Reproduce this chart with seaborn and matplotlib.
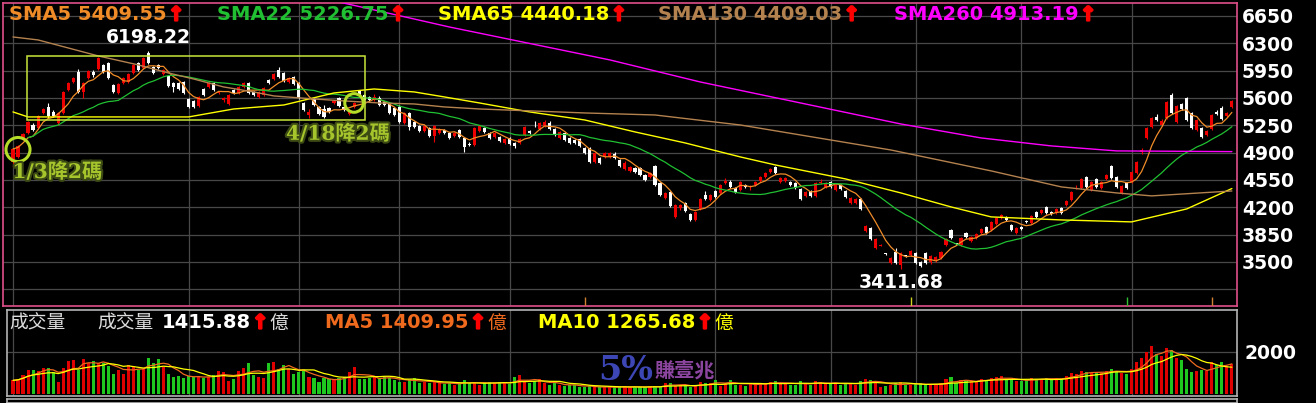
import numpy as np
import pandas as pd
import matplotlib
matplotlib.use("Agg")
import matplotlib.pyplot as plt
import matplotlib.patheffects as pe
from matplotlib.patches import Rectangle
import seaborn as sns

# daily candles
opens = [4781, 4845, 5075, 5152, 5254, 5216, 5408, 5485, 5421, 5280,
         5408, 5702, 5805, 5933, 5677, 5856, 5933, 5972, 6023, 6048,
         5767, 5664, 5792, 5805, 5920, 6048, 5984, 6176, 5997, 6023,
         5907, 5882, 5792, 5792, 5805, 5587, 5562, 5498, 5715, 5741,
         5792, 5664, 5580, 5523, 5702, 5664, 5741, 5792, 5677, 5613,
         5638, 5830, 5843, 5959, 5920, 5805, 5869, 5792, 5536, 5382,
         5587, 5485, 5459, 5472, 5536, 5600, 5485, 5395, 5485, 5690,
         5638, 5613, 5574, 5600, 5549, 5523, 5472, 5485, 5280, 5408,
         5293, 5242, 5178, 5216, 5114, 5152, 5190, 5152, 5114, 5190,
         5088, 5010, 4998, 5178, 5216, 5152, 5101, 5101, 5024, 5088,
         5024, 5024, 5126, 5178, 5260, 5203, 5242, 5280, 5203, 5088,
         5152, 5088, 5062, 5075, 4960, 4960, 4781, 4832, 4845, 4845,
         4883, 4806, 4691, 4666, 4704, 4704, 4614, 4589, 4730, 4512,
         4320, 4397, 4077, 4192, 4256, 4115, 4038, 4179, 4358, 4294,
         4410, 4384, 4512, 4525, 4448, 4422, 4486, 4461, 4486, 4538,
         4589, 4653, 4717, 4525, 4538, 4525, 4512, 4435, 4346, 4410,
         4346, 4512, 4461, 4525, 4422, 4486, 4410, 4256, 4256, 4307,
         3898, 3936, 3680, 3710, 3610, 3488, 3629, 3462, 3585, 3590,
         3616, 3501, 3616, 3501, 3526, 3552, 3718, 3910, 3735, 3718,
         3872, 3770, 3808, 3872, 3949, 3910, 3987, 4064, 4077, 3974,
         3872, 3949, 4020, 4000, 4141, 4128, 4205, 4141, 4128, 4192,
         4230, 4294, 4455, 4448, 4589, 4422, 4563, 4448, 4563, 4730,
         4589, 4384, 4512, 4525, 4640, 4909, 5088, 5229, 5357, 5254,
         5344, 5638, 5293, 5523, 5600, 5408, 5190, 5216, 5126, 5203,
         5421, 5472, 5370, 5485]
highs = [4960, 5000, 5150, 5300, 5280, 5380, 5470, 5536, 5440, 5420,
         5690, 5805, 5869, 5972, 5805, 5960, 5960, 6125, 6040, 6060,
         5780, 5790, 5869, 5920, 6035, 6060, 6125, 6198, 6010, 6040,
         5972, 5895, 5805, 5805, 5818, 5600, 5574, 5626, 5728, 5805,
         5805, 5690, 5613, 5651, 5715, 5754, 5805, 5805, 5690, 5690,
         5741, 5843, 5920, 5997, 5933, 5869, 5882, 5805, 5549, 5459,
         5600, 5498, 5510, 5485, 5574, 5613, 5498, 5459, 5549, 5702,
         5651, 5626, 5651, 5626, 5562, 5536, 5485, 5510, 5421, 5421,
         5306, 5254, 5254, 5229, 5254, 5216, 5203, 5165, 5165, 5203,
         5101, 5037, 5229, 5254, 5229, 5165, 5165, 5114, 5088, 5101,
         5037, 5088, 5242, 5190, 5306, 5293, 5318, 5306, 5216, 5178,
         5165, 5101, 5075, 5088, 4973, 4973, 4909, 4845, 4909, 4909,
         4909, 4819, 4794, 4730, 4717, 4717, 4627, 4653, 4742, 4525,
         4397, 4410, 4243, 4243, 4269, 4128, 4154, 4320, 4410, 4371,
         4422, 4499, 4576, 4550, 4461, 4538, 4499, 4486, 4538, 4602,
         4653, 4704, 4730, 4589, 4589, 4538, 4525, 4448, 4410, 4422,
         4525, 4560, 4525, 4538, 4512, 4499, 4422, 4333, 4320, 4320,
         3974, 3949, 3808, 3731, 3616, 3565, 3680, 3629, 3590, 3655,
         3629, 3514, 3629, 3590, 3578, 3642, 3808, 3923, 3744, 3821,
         3885, 3834, 3872, 3936, 3962, 4026, 4077, 4115, 4090, 3987,
         3949, 3962, 4038, 4102, 4154, 4179, 4218, 4154, 4192, 4205,
         4294, 4410, 4480, 4576, 4602, 4538, 4576, 4538, 4627, 4742,
         4602, 4486, 4525, 4666, 4794, 4960, 5229, 5357, 5395, 5331,
         5562, 5664, 5510, 5536, 5613, 5421, 5331, 5229, 5190, 5395,
         5446, 5498, 5421, 5574]
lows = [4717, 4830, 5062, 5140, 5180, 5200, 5400, 5344, 5357, 5254,
        5395, 5690, 5792, 5664, 5600, 5843, 5870, 5960, 5920, 5843,
        5664, 5651, 5779, 5792, 5907, 5946, 5972, 6035, 5907, 5970,
        5895, 5741, 5677, 5702, 5651, 5472, 5472, 5485, 5626, 5728,
        5690, 5651, 5549, 5510, 5651, 5651, 5728, 5651, 5626, 5600,
        5626, 5779, 5830, 5856, 5805, 5792, 5767, 5587, 5434, 5344,
        5498, 5382, 5344, 5408, 5523, 5485, 5434, 5382, 5472, 5626,
        5562, 5562, 5562, 5498, 5498, 5395, 5370, 5280, 5267, 5190,
        5216, 5165, 5165, 5101, 5037, 5139, 5139, 5075, 5101, 5088,
        4909, 4986, 4986, 5165, 5152, 5075, 5088, 5037, 5011, 4998,
        4960, 5011, 5114, 5139, 5229, 5190, 5229, 5190, 5114, 5075,
        5050, 5011, 5011, 4973, 4883, 4768, 4768, 4755, 4832, 4832,
        4819, 4717, 4678, 4653, 4640, 4602, 4538, 4576, 4474, 4346,
        4307, 4205, 4064, 4166, 4141, 4026, 4026, 4166, 4294, 4282,
        4320, 4371, 4499, 4448, 4384, 4410, 4448, 4422, 4474, 4525,
        4576, 4640, 4627, 4512, 4525, 4474, 4435, 4294, 4333, 4333,
        4333, 4499, 4448, 4448, 4410, 4422, 4320, 4243, 4243, 4166,
        3885, 3782, 3668, 3706, 3590, 3475, 3475, 3412, 3565, 3578,
        3475, 3440, 3475, 3475, 3501, 3539, 3706, 3795, 3718, 3706,
        3808, 3757, 3795, 3859, 3859, 3898, 3974, 4051, 4026, 3898,
        3859, 3910, 4000, 3987, 4064, 4115, 4115, 4102, 4115, 4115,
        4218, 4282, 4440, 4435, 4448, 4410, 4448, 4435, 4550, 4563,
        4448, 4371, 4435, 4512, 4627, 4883, 5075, 5216, 5306, 5242,
        5331, 5395, 5280, 5446, 5306, 5203, 5178, 5088, 5114, 5190,
        5382, 5318, 5357, 5472]
closes = [4947, 4986, 5139, 5293, 5190, 5370, 5459, 5370, 5370, 5408,
          5677, 5792, 5856, 5677, 5792, 5946, 5895, 6112, 5933, 5856,
          5677, 5779, 5856, 5907, 6023, 5959, 6112, 6048, 5920, 5984,
          5959, 5754, 5741, 5715, 5664, 5485, 5485, 5613, 5638, 5792,
          5702, 5677, 5600, 5638, 5664, 5741, 5792, 5664, 5638, 5677,
          5728, 5792, 5907, 5869, 5818, 5856, 5779, 5600, 5446, 5421,
          5510, 5395, 5357, 5421, 5562, 5498, 5446, 5446, 5536, 5638,
          5574, 5574, 5613, 5510, 5510, 5408, 5382, 5293, 5408, 5229,
          5229, 5178, 5242, 5114, 5242, 5203, 5152, 5088, 5152, 5101,
          4973, 4998, 5216, 5242, 5165, 5088, 5152, 5050, 5075, 5011,
          4986, 5075, 5229, 5152, 5250, 5280, 5293, 5203, 5126, 5165,
          5062, 5024, 5024, 4986, 4896, 4781, 4896, 4768, 4896, 4896,
          4832, 4730, 4768, 4717, 4653, 4614, 4550, 4640, 4486, 4358,
          4384, 4218, 4230, 4230, 4154, 4038, 4141, 4307, 4307, 4358,
          4333, 4486, 4538, 4461, 4397, 4525, 4461, 4474, 4525, 4589,
          4640, 4691, 4640, 4576, 4576, 4486, 4448, 4307, 4397, 4346,
          4512, 4525, 4512, 4461, 4499, 4435, 4333, 4320, 4307, 4179,
          3962, 3795, 3795, 3718, 3603, 3552, 3488, 3616, 3578, 3642,
          3488, 3450, 3488, 3578, 3565, 3629, 3795, 3808, 3731, 3808,
          3821, 3821, 3859, 3923, 3872, 4016, 4064, 4102, 4038, 3910,
          3936, 3923, 4013, 4090, 4077, 4166, 4128, 4115, 4179, 4128,
          4282, 4397, 4465, 4563, 4461, 4525, 4461, 4525, 4614, 4576,
          4461, 4474, 4448, 4653, 4781, 4934, 5216, 5344, 5318, 5306,
          5549, 5408, 5498, 5459, 5318, 5216, 5318, 5101, 5178, 5382,
          5395, 5331, 5408, 5562]
# volume, 億
volumes = [650, 700, 900, 1140, 1140, 1094, 1221, 1221, 1062, 586,
           1220, 1550, 1620, 1141, 1650, 1459, 1570, 1490, 1459, 1348,
           951, 1141, 951, 1380, 1300, 1141, 1189, 1697, 1490, 1649,
           1300, 951, 824, 856, 776, 856, 792, 856, 745, 824,
           903, 1094, 1062, 618, 713, 1094, 1221, 1459, 903, 824,
           776, 1490, 1538, 1173, 1380, 1189, 951, 1062, 1094, 824,
           745, 586, 745, 697, 665, 745, 824, 1062, 1300, 697,
           697, 745, 824, 697, 824, 776, 665, 586, 586, 665,
           745, 538, 554, 507, 586, 507, 459, 538, 427, 507,
           665, 507, 586, 427, 507, 586, 507, 586, 507, 459,
           824, 903, 586, 507, 618, 697, 507, 427, 507, 427,
           380, 427, 427, 348, 316, 380, 316, 316, 348, 316,
           316, 348, 380, 316, 348, 316, 316, 380, 380, 316,
           538, 507, 380, 427, 380, 316, 380, 586, 507, 507,
           665, 380, 538, 665, 427, 427, 380, 538, 475, 507,
           500, 550, 600, 520, 480, 450, 430, 600, 480, 450,
           600, 550, 500, 480, 520, 450, 500, 520, 450, 600,
           700, 650, 600, 350, 380, 450, 520, 560, 420, 450,
           480, 500, 450, 420, 430, 500, 700, 800, 500, 650,
           620, 600, 640, 700, 650, 750, 800, 850, 700, 650,
           600, 620, 680, 750, 700, 720, 760, 700, 740, 700,
           850, 1000, 950, 1100, 1050, 1000, 1050, 980, 1100, 1200,
           1100, 1000, 950, 1200, 1500, 1700, 2000, 2300, 1900, 1800,
           2200, 2100, 1700, 1600, 1200, 1050, 1100, 1150, 1100, 1500,
           1400, 1500, 1350, 1416]

# long moving averages at a few candles
sma65_idx = [0, 3, 35, 44, 54, 64, 72, 80, 86, 93, 103, 114, 124, 134,
             145, 152, 166, 177, 187, 195, 209, 223, 234, 243]
sma65_val = [5421, 5357, 5357, 5459, 5510, 5664, 5715, 5677, 5613, 5536,
             5421, 5318, 5165, 5024, 4845, 4742, 4563, 4384, 4205, 4077,
             4038, 4013, 4179, 4440]
sma130_idx = [0, 5, 17, 25, 31, 36, 42, 48, 52, 60, 66, 73, 80, 86, 93,
              114, 128, 145, 175, 195, 209, 220, 227, 243]
sma130_val = [6381, 6343, 6138, 6023, 5920, 5843, 5741, 5677, 5626, 5587,
              5562, 5536, 5523, 5485, 5459, 5408, 5382, 5254, 4934, 4666,
              4461, 4384, 4346, 4409]
sma260_idx = [0, 65, 87, 119, 137, 157, 177, 193, 207, 220, 243]
sma260_val = [7740, 6829, 6509, 6087, 5805, 5536, 5267, 5088, 4986, 4922, 4913]

month_idx = [0, 35, 57, 77, 99, 140, 163, 180, 201, 223]
cut_idx = [1, 68]
cut_price = [4940, 5536]
cut_text = ["1/3降2碼", "4/18降2碼"]
box_idx = (2.8, 70.2)
box_price = (5318, 6138)
mark_idx = [114, 179, 222, 239]
mark_col = ["#d08030", "#d0d020", "#30c030", "#d08030"]

price_ticks = [3150, 3500, 3850, 4200, 4550, 4900, 5250, 5600, 5950, 6300, 6650]
sma_labels = ["SMA5 5409.55", "SMA22 5226.75", "SMA65 4440.18",
              "SMA130 4409.03", "SMA260 4913.19"]
sma_colors = ["#f08c28", "#20c032", "#ffff00", "#b4824f", "#ff00ff"]
high_label = "6198.22"
low_label = "3411.68"

df = pd.DataFrame({"open": opens, "high": highs, "low": lows,
                   "close": closes, "vol": volumes})
df["idx"] = np.arange(len(df))
df["sma5"] = df["close"].rolling(5, min_periods=1).mean()
df["sma22"] = df["close"].rolling(22, min_periods=1).mean()
df["vma5"] = df["vol"].rolling(5, min_periods=1).mean()
df["vma10"] = df["vol"].rolling(10, min_periods=1).mean()
up = df["close"] >= df["open"]
candle_col = np.where(up, "#ee0000", "#ffffff")
vol_col = np.where(up, "#e00000", "#1ec81e")

sns.set_theme(style="dark")
plt.rcParams["font.family"] = ["DejaVu Sans", "Noto Sans CJK TC"]

W, H = 1316, 403
def fx(x):
    return x / W
def fy(y):
    return 1 - y / H

fig = plt.figure(figsize=(W / 100, H / 100), dpi=100)
fig.patch.set_facecolor("black")

GRID = "#484848"
ARROW_FX = [pe.withStroke(linewidth=1.6, foreground="#ff0000")]

ax = fig.add_axes([fx(3), fy(306), (1237 - 3) / W, (306 - 3) / H])
ax.set_facecolor("black")
ax.set_xlim(-1.99, 244.02)
ax.set_ylim(2936, 6816)
for s in ax.spines.values():
    s.set_color("#e0508a")
    s.set_linewidth(1.2)
ax.set_xticks(month_idx)
ax.set_xticklabels([])
ax.set_yticks(price_ticks)
ax.set_yticklabels([""] + [str(t) for t in price_ticks[1:]])
ax.yaxis.tick_right()
ax.tick_params(axis="both", length=0)
ax.tick_params(axis="y", pad=3.5, labelcolor="white", labelsize=13.5)
for lbl in ax.get_yticklabels():
    lbl.set_fontweight("bold")
ax.grid(True, color=GRID, lw=0.9)
ax.set_axisbelow(True)

# candles
body_lo = np.minimum(df["open"], df["close"])
body_h = np.maximum((df["close"] - df["open"]).abs(), 10)
ax.vlines(df["idx"], df["low"], df["high"], colors=candle_col, lw=0.8, zorder=3)
ax.bar(df["idx"], body_h, bottom=body_lo, width=0.62, color=candle_col,
       lw=0, zorder=4)

# moving averages
sns.lineplot(x=df["idx"], y=df["sma5"], ax=ax, color=sma_colors[0], lw=0.9, zorder=5)
sns.lineplot(x=df["idx"][3:], y=df["sma22"][3:], ax=ax, color=sma_colors[1], lw=0.9, zorder=5)
sns.lineplot(x=sma65_idx, y=sma65_val, ax=ax, color=sma_colors[2], lw=1.0, zorder=5)
sns.lineplot(x=sma130_idx, y=sma130_val, ax=ax, color=sma_colors[3], lw=1.0, zorder=5)
sns.lineplot(x=sma260_idx, y=sma260_val, ax=ax, color=sma_colors[4], lw=1.0, zorder=5)
ax.set_xlabel("")
ax.set_ylabel("")

ax.vlines(mark_idx, 2936, 3051, colors=mark_col, lw=1.0, zorder=6)

# highlight box and rate cut notes
ax.add_patch(Rectangle((box_idx[0], box_price[0]), box_idx[1] - box_idx[0],
                       box_price[1] - box_price[0], fill=False,
                       ec="#c8e63c", lw=1.1, zorder=6))
ax.scatter(cut_idx, cut_price, s=[300, 180], facecolors="none",
           edgecolors="#b4dc28", linewidths=2.2, zorder=7)
note_offsets = [(-4, -9), (-49, -15)]
for i, p, t, off in zip(cut_idx, cut_price, cut_text, note_offsets):
    ax.annotate(t, xy=(i, p), xytext=off, textcoords="offset points",
                ha="left", va="top", color="#a6c42c", fontsize=14.5,
                fontweight="bold", family=["DejaVu Serif", "Noto Sans CJK TC"],
                zorder=8,
                path_effects=[pe.withStroke(linewidth=3, foreground="#3c4a14")])

hi_i = int(df["high"].idxmax())
lo_i = int(df["low"].idxmin())
ax.annotate(high_label, xy=(hi_i, df["high"][hi_i]), xytext=(0, 3),
            textcoords="offset points", ha="center", va="bottom",
            color="white", fontsize=13.5, fontweight="bold", zorder=8)
ax.annotate(low_label, xy=(lo_i, df["low"][lo_i]), xytext=(0, -3),
            textcoords="offset points", ha="center", va="top",
            color="white", fontsize=13.5, fontweight="bold", zorder=8)


def chain(target, prev, s, color, size=14, weight="bold", family=None,
          gap=1.5, effects=None, z=8):
    kw = dict(xy=(1, 0.5), xycoords=prev, xytext=(gap, 0),
              textcoords="offset points", ha="left", va="center",
              color=color, fontsize=size, fontweight=weight,
              annotation_clip=False, zorder=z)
    if family:
        kw["family"] = family
    if effects:
        kw["path_effects"] = effects
    return target.annotate(s, **kw)


# legend row of the price panel
sma_x = [9, 217, 438, 658, 894]
for x, lab, c in zip(sma_x, sma_labels, sma_colors):
    t = fig.text(fx(x), fy(15), lab, color=c, fontsize=14, fontweight="bold",
                 ha="left", va="center")
    chain(ax, t, "↑", "#ff0000", size=14, gap=1, effects=ARROW_FX)

# volume panel
vax = fig.add_axes([fx(7), fy(396), (1237 - 7) / W, (396 - 310) / H])
vax.set_facecolor("black")
vax.set_xlim(-1.2, 244.02)
vax.set_ylim(-95, 3998)
for s in vax.spines.values():
    s.set_color("#b4b4b4")
    s.set_linewidth(1.2)
vax.set_xticks(month_idx)
vax.set_xticklabels([])
vax.set_yticks([2000])
vax.set_yticklabels(["2000"])
vax.yaxis.tick_right()
vax.tick_params(axis="both", length=0)
vax.tick_params(axis="y", pad=5.5, labelcolor="white", labelsize=13.5)
for lbl in vax.get_yticklabels():
    lbl.set_fontweight("bold")
vax.grid(True, color=GRID, lw=0.9)
vax.set_axisbelow(True)
vax.bar(df["idx"], df["vol"], width=0.62, color=vol_col, lw=0, zorder=3)
sns.lineplot(x=df["idx"], y=df["vma5"], ax=vax, color="#f06a1e", lw=0.9, zorder=4)
sns.lineplot(x=df["idx"], y=df["vma10"], ax=vax, color="#ffff00", lw=0.9, zorder=4)
vax.set_xlabel("")
vax.set_ylabel("")

cjk = ["Noto Sans CJK TC"]
fig.text(fx(9), fy(323), "成交量", color="#dcdcdc", fontsize=13.5,
         family=cjk, ha="left", va="center")
t = fig.text(fx(97), fy(323), "成交量", color="#dcdcdc", fontsize=13.5,
             family=cjk, ha="left", va="center")
t = chain(vax, t, "1415.88", "white", gap=6)
t = chain(vax, t, "↑", "#ff0000", gap=1, effects=ARROW_FX)
chain(vax, t, "億", "#dcdcdc", size=13.5, weight="normal", family=cjk, gap=1)
t = fig.text(fx(325), fy(323), "MA5 1409.95", color="#f06a1e", fontsize=14,
             fontweight="bold", ha="left", va="center")
t = chain(vax, t, "↑", "#ff0000", gap=1, effects=ARROW_FX)
chain(vax, t, "億", "#f06a1e", size=13.5, weight="normal", family=cjk, gap=1)
t = fig.text(fx(538), fy(323), "MA10 1265.68", color="#ffff00", fontsize=14,
             fontweight="bold", ha="left", va="center")
t = chain(vax, t, "↑", "#ff0000", gap=1, effects=ARROW_FX)
chain(vax, t, "億", "#ffff00", size=13.5, weight="normal", family=cjk, gap=1)

# watermark
wm = fig.text(fx(598), fy(380), "5%", color="#3c46b4", fontsize=24,
              fontweight="bold", family=["DejaVu Serif"], ha="left",
              va="baseline", zorder=10)
chain(vax, wm, "賺壹兆", "#8c46a0", size=14.5, weight="bold", family=cjk,
      gap=1, z=10)

# next panel border peeking in at the bottom
bax = fig.add_axes([fx(7), 0, (1237 - 7) / W, 4 / H])
bax.set_facecolor("black")
bax.set_xticks([])
bax.set_yticks([])
for s in bax.spines.values():
    s.set_color("#b4b4b4")
    s.set_linewidth(1.2)

fig.savefig("out.png", dpi=100, facecolor="black")
